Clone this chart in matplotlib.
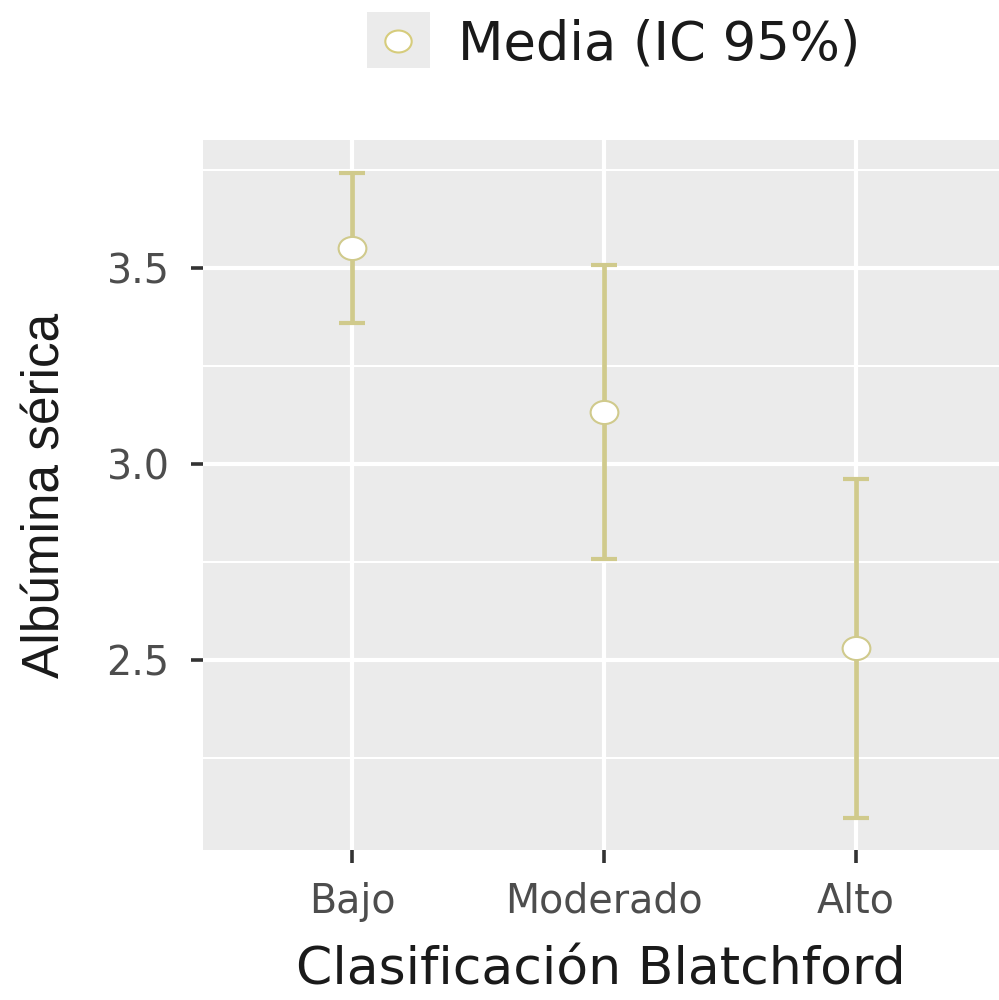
import numpy as np
import matplotlib.pyplot as plt
from matplotlib.lines import Line2D
from matplotlib.patches import Rectangle
from matplotlib.path import Path
from matplotlib.transforms import Affine2D

plt.rcParams['font.family'] = ['DejaVu Sans']

# Data
categories = ['Bajo', 'Moderado', 'Alto']
means = [3.551, 3.133, 2.531]
ci_low = [3.360, 2.758, 2.097]
ci_high = [3.742, 3.508, 2.962]

khaki = '#D0CA8C'
x = np.arange(1, len(categories) + 1)
means = np.array(means)
yerr = [means - np.array(ci_low), np.array(ci_high) - means]

# slightly wide circle, like the original
oval = Path.unit_circle().transformed(Affine2D().scale(1.2, 1.0))

fig = plt.figure(figsize=(9.99, 10), dpi=100)
ax = fig.add_axes([0.2032, 0.15, 0.7968, 0.71])
ax.set_facecolor('#EBEBEB')

ax.errorbar(x, means, yerr=yerr, fmt='none', ecolor=khaki, elinewidth=3.4,
            capsize=9.5, capthick=3.0, zorder=3)
ax.plot(x, means, ls='none', marker=oval, ms=20, mfc='white', mec=khaki, mew=1.5, zorder=4)

ax.set_xlim(0.409, 3.567)
ax.set_ylim(2.015, 3.827)
ax.set_xticks(x)
ax.set_xticklabels(categories)
ax.set_yticks([2.5, 3.0, 3.5])
ax.set_yticklabels(['2.5', '3.0', '3.5'])
ax.set_yticks([2.25, 2.75, 3.25, 3.75], minor=True)

ax.grid(True, which='major', color='white', lw=3.0)
ax.grid(True, which='minor', axis='y', color='white', lw=1.5)
ax.set_axisbelow(True)
for s in ax.spines.values():
    s.set_visible(False)

ax.tick_params(axis='both', which='major', length=9, width=2.6, color='#333333',
               labelsize=28.5, labelcolor='#4D4D4D', pad=15)
ax.tick_params(axis='y', which='minor', length=0)
ax.tick_params(axis='x', pad=14)

ax.set_xlabel('Clasificación Blatchford', fontsize=37.5, color='#1A1A1A', labelpad=17)
ax.set_ylabel('Albúmina sérica', fontsize=37, color='#1A1A1A', labelpad=26,
              family='Liberation Sans')

handle = Line2D([], [], marker=oval, ls='none', ms=19, mfc='white', mec='#D6CC7C', mew=1.5)
leg = fig.legend([handle], ['Media (IC 95%)'], loc='center left',
                 bbox_to_anchor=(367 / 999, 1 - 44 / 1000), frameon=False,
                 fontsize=38, handlelength=1.17, handletextpad=0.56, borderpad=0,
                 borderaxespad=0, labelcolor='#1A1A1A')

# grey key background behind the legend marker
W, H = fig.bbox.width, fig.bbox.height
fig.patches.append(Rectangle((367 / W, 1 - 68 / H), 63 / W, 56 / H,
                             transform=fig.transFigure, facecolor='#EBEBEB',
                             edgecolor='none', zorder=0))

fig.savefig('out.png', dpi=100)
